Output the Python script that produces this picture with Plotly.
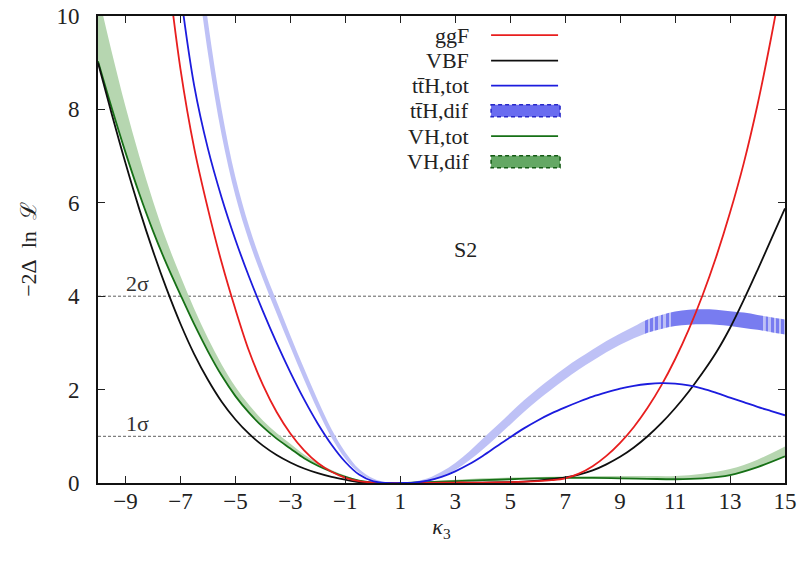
import plotly.graph_objects as go

# ---------------- data ----------------
x_ticks = [-9, -7, -5, -3, -1, 1, 3, 5, 7, 9, 11, 13, 15]
y_ticks = [0, 2, 4, 6, 8, 10]
sigma_levels = [1, 4]
sigma_labels = ["1σ", "2σ"]

# ggF (red)
k_ggf = [-7.5, -7, -6.5, -6, -5.5, -5, -4.5, -4, -3.5, -3, -2.5, -2, -1.5, -1, -0.5, 0,
         0.5, 1, 2, 3, 4, 5, 6,
         6.5, 7, 7.5, 8, 8.5, 9, 9.5, 10, 10.5, 11, 11.5, 12, 12.5, 13, 13.5, 14, 14.5, 15]
v_ggf = [11.17, 8.87, 7.17, 5.87, 4.72, 3.72, 2.82, 2.1, 1.52, 1.06, 0.7, 0.43, 0.24, 0.11, 0.04, 0.01,
         0.0, 0.0, 0.0, 0.01, 0.01, 0.02, 0.04,
         0.06, 0.1, 0.2, 0.36, 0.58, 0.86, 1.2, 1.61, 2.09, 2.65, 3.29, 4.02, 4.85, 5.79, 6.85, 8.1, 9.55, 11.15]

# VBF (black)
k_vbf = [-10, -9.5, -9, -8.5, -8, -7.5, -7, -6.5, -6, -5.5, -5, -4.5, -4, -3.5, -3, -2.5, -2, -1.5, -1, -0.5, 0,
         0.5, 1, 2, 3, 4, 5,
         5.5, 6, 6.5, 7, 7.5, 8, 8.5, 9, 9.5, 10, 10.5, 11, 11.5, 12, 12.5, 13, 13.5, 14, 14.5, 15]
v_vbf = [9.0, 7.9, 6.85, 5.87, 4.97, 4.15, 3.41, 2.76, 2.21, 1.74, 1.36, 1.05, 0.8, 0.6, 0.44, 0.31, 0.21, 0.13,
         0.07, 0.02, 0.0,
         0.0, 0.0, 0.0, 0.0, 0.01, 0.02,
         0.03, 0.05, 0.08, 0.12, 0.18, 0.27, 0.4, 0.56, 0.76, 1.0, 1.28, 1.6, 1.96, 2.36, 2.8, 3.32, 3.92, 4.56,
         5.22, 5.88]

# ttH, tot (blue)
k_tth = [-7, -6.5, -6, -5.5, -5, -4.5, -4, -3.5, -3, -2.5, -2, -1.5, -1, -0.5, 0, 0.5, 1,
         1.5, 2, 2.5, 3, 3.5, 4, 4.5, 5, 5.5, 6, 6.5, 7, 7.5, 8, 8.5, 9, 9.5, 10, 10.5, 11, 11.5, 12, 12.5, 13,
         13.5, 14, 14.5, 15]
v_tth = [10.51, 8.51, 7.16, 6.11, 5.21, 4.41, 3.68, 3.0, 2.37, 1.79, 1.27, 0.82, 0.45, 0.18, 0.04, 0.0, 0.0,
         0.01, 0.05, 0.13, 0.25, 0.4, 0.58, 0.78, 0.98, 1.17, 1.34, 1.49, 1.62, 1.74, 1.85, 1.94, 2.02, 2.08,
         2.12, 2.14, 2.13, 2.09, 2.02, 1.93, 1.83, 1.73, 1.63, 1.54, 1.45]

# ttH, dif band (lower / upper edges)
k_tthd = [-6.5, -6, -5.5, -5, -4.5, -4, -3.5, -3, -2.5, -2, -1.5, -1, -0.5, 0, 0.5, 1,
          1.5, 2, 2.5, 3, 3.5, 4, 4.5, 5, 5.5, 6, 6.5, 7, 7.5, 8, 8.5, 9, 9.5, 10, 10.5, 11, 11.5, 12, 12.5, 13,
          13.5, 14, 14.5, 15]
v_tthd_lo = [11.4, 9.2, 7.45, 6.15, 5.17, 4.37, 3.63, 2.91, 2.21, 1.55, 0.97, 0.52, 0.22, 0.06, 0.0, 0.0,
             0.01, 0.04, 0.13, 0.28, 0.48, 0.72, 0.98, 1.25, 1.52, 1.77, 2.0, 2.22, 2.43, 2.62, 2.8, 2.96, 3.1,
             3.22, 3.3, 3.36, 3.39, 3.4, 3.39, 3.36, 3.32, 3.28, 3.23, 3.18]
v_tthd_hi = [12.24, 9.89, 7.99, 6.55, 5.49, 4.64, 3.89, 3.16, 2.45, 1.77, 1.15, 0.66, 0.3, 0.1, 0.01, 0.0,
             0.03, 0.1, 0.24, 0.43, 0.67, 0.95, 1.22, 1.5, 1.77, 2.02, 2.25, 2.47, 2.67, 2.86, 3.04, 3.2, 3.35,
             3.5, 3.6, 3.67, 3.71, 3.72, 3.71, 3.68, 3.65, 3.6, 3.55, 3.5]

# VH, tot (green) and VH, dif band upper edge (lower edge = VH, tot)
k_vh = [-10, -9.5, -9, -8.5, -8, -7.5, -7, -6.5, -6, -5.5, -5, -4.5, -4, -3.5, -3, -2.5, -2, -1.5, -1, -0.5,
        0, 0.5,
        1, 2, 3, 4, 5, 6, 7, 8, 9, 10, 11, 12, 13, 14, 15]
v_vh = [9.03, 8.03, 7.08, 6.2, 5.4, 4.68, 4.03, 3.4, 2.82, 2.3, 1.86, 1.5, 1.2, 0.95, 0.74, 0.53, 0.37, 0.24,
        0.13, 0.05, 0.01, 0.0,
        0.0, 0.02, 0.04, 0.06, 0.08, 0.1, 0.11, 0.11, 0.1, 0.09, 0.08, 0.1, 0.17, 0.34, 0.57]
v_vhd_hi = [10.48, 9.23, 8.06, 7.0, 6.04, 5.18, 4.43, 3.73, 3.1, 2.54, 2.06, 1.67, 1.34, 1.07, 0.84, 0.61, 0.43,
            0.28, 0.16, 0.06, 0.01, 0.0,
            0.0, 0.04, 0.07, 0.1, 0.12, 0.13, 0.14, 0.15, 0.15, 0.15, 0.15, 0.2, 0.3, 0.5, 0.78]

legend_names = ["ggF", "VBF", "tt̄H,tot", "tt̄H,dif", "VH,tot", "VH,dif"]

# ---------------- styling ----------------
FONT = "Liberation Serif, DejaVu Serif, serif"
FS = 22
RED = "rgb(232,30,30)"
BLACK = "rgb(15,15,15)"
BLUE = "rgb(28,28,222)"
GREEN = "rgb(22,112,22)"
LBLUE = "rgb(190,193,246)"
DBLUE = "rgb(120,124,240)"
LGREEN = "rgb(182,214,176)"
XMIN, XMAX = -10, 15

# horizontal colour profile of the ttH,dif band: light, striped transition, dense, striped transition
def tpos(k):
    return (k - XMIN) / (XMAX - XMIN)

def stripes(k0, k1, period=0.19, dark_frac=0.55):
    stops = []
    k = k0
    eps = 1e-4
    while k < k1 - 1e-9:
        kd = min(k + period * dark_frac, k1)
        stops += [[tpos(k) + eps, DBLUE], [tpos(kd), DBLUE], [tpos(kd) + eps, LBLUE], [tpos(min(k + period, k1)), LBLUE]]
        k += period
    return stops

cscale = [[0.0, LBLUE], [tpos(9.9), LBLUE]]
cscale += stripes(9.9, 10.85)
cscale += [[tpos(10.85) + 1e-4, DBLUE], [tpos(14.1), DBLUE]]
cscale += stripes(14.1, 15.0)
cscale[-1][0] = 1.0
# make strictly non-decreasing
for i in range(1, len(cscale)):
    if cscale[i][0] < cscale[i - 1][0]:
        cscale[i][0] = cscale[i - 1][0]

SM = 1.0
fig = go.Figure()

# VH dif band
fig.add_trace(go.Scatter(x=k_vh, y=v_vh, mode="lines", line=dict(width=0, shape="spline", smoothing=SM),
                         showlegend=False, hoverinfo="skip"))
fig.add_trace(go.Scatter(x=k_vh, y=v_vhd_hi, mode="lines", line=dict(width=0, shape="spline", smoothing=SM),
                         fill="tonexty", fillcolor=LGREEN, showlegend=False, hoverinfo="skip"))

# ttH dif band
fig.add_trace(go.Scatter(x=k_tthd, y=v_tthd_lo, mode="lines", line=dict(width=0, shape="spline", smoothing=SM),
                         showlegend=False, hoverinfo="skip"))
fig.add_trace(go.Scatter(x=k_tthd, y=v_tthd_hi, mode="lines", line=dict(width=0, shape="spline", smoothing=SM),
                         fill="tonexty", fillcolor=LBLUE,
                         fillgradient=dict(type="horizontal", start=XMIN, stop=XMAX, colorscale=cscale),
                         showlegend=False, hoverinfo="skip"))

# lines
for k, v, c in [(k_vh, v_vh, GREEN), (k_vbf, v_vbf, BLACK), (k_ggf, v_ggf, RED), (k_tth, v_tth, BLUE)]:
    fig.add_trace(go.Scatter(x=k, y=v, mode="lines", line=dict(color=c, width=1.8, shape="spline", smoothing=SM),
                             showlegend=False, hoverinfo="skip"))

shapes = []
for s in sigma_levels:
    shapes.append(dict(type="line", xref="paper", x0=0, x1=1, yref="y", y0=s, y1=s,
                       line=dict(color="rgb(95,95,95)", width=1, dash="3px,2px"), layer="below"))

annotations = []
for s, lab in zip(sigma_levels, sigma_labels):
    annotations.append(dict(x=-8.56, y=s + 0.27, xref="x", yref="y", text=lab, showarrow=False,
                            font=dict(family=FONT, size=FS, color="#333")))
annotations.append(dict(x=3.36, y=5.0, xref="x", yref="y", text="S2", showarrow=False,
                        font=dict(family=FONT, size=FS, color="#222")))

# manual legend (text right, sample right)
row_y = [35.5, 61, 86, 111, 136.5, 162]
L, R, T, B = 97.8, 785.0, 16.3, 483.3
def px(X):
    return (X - L) / (R - L)
def py(Y):
    return (B - Y) / (B - T)
styles = [("line", RED), ("line", BLACK), ("line", BLUE), ("rect", ("rgb(105,108,240)", "rgb(40,40,200)")),
          ("line", GREEN), ("rect", ("rgb(100,168,100)", "rgb(20,90,20)"))]
for name, Y, (kind, col) in zip(legend_names, row_y, styles):
    annotations.append(dict(x=px(471), y=py(Y), xref="paper", yref="paper", text=name, showarrow=False,
                            xanchor="right", yanchor="middle", font=dict(family=FONT, size=FS, color="#222")))
    if kind == "line":
        shapes.append(dict(type="line", xref="paper", yref="paper", x0=px(491), x1=px(558), y0=py(Y), y1=py(Y),
                           line=dict(color=col, width=1.8)))
    else:
        shapes.append(dict(type="rect", xref="paper", yref="paper", x0=px(491), x1=px(560), y0=py(Y - 6),
                           y1=py(Y + 6), fillcolor=col[0], line=dict(color=col[1], width=1.5, dash="4px,3px")))

fig.update_layout(
    width=799, height=561, paper_bgcolor="white", plot_bgcolor="white",
    margin=dict(l=98, r=14, t=16, b=78),
    showlegend=False, shapes=shapes, annotations=annotations,
    xaxis=dict(range=[XMIN, XMAX], tickvals=x_ticks, ticks="inside", ticklen=7, tickwidth=1.2, tickcolor="#222",
               showline=True, linecolor="#111", linewidth=1.6, mirror="ticks", showgrid=False, zeroline=False,
               tickfont=dict(family=FONT, size=23, color="#222"), ticklabelstandoff=-3,
               title=dict(text="<i>κ</i><sub>3</sub>", font=dict(family=FONT, size=FS, color="#222"), standoff=4),
               automargin=False),
    yaxis=dict(range=[0, 10], tickvals=y_ticks, ticks="inside", ticklen=7, tickwidth=1.2, tickcolor="#222",
               showline=True, linecolor="#111", linewidth=1.6, mirror="ticks", showgrid=False, zeroline=False,
               tickfont=dict(family=FONT, size=23, color="#222"), ticklabelstandoff=12,
               title=dict(text="−2Δ\u2002ln\u2002ℒ", font=dict(family=FONT, size=FS, color="#222"), standoff=14),
               automargin=False),
)

fig.write_html("out.html")
